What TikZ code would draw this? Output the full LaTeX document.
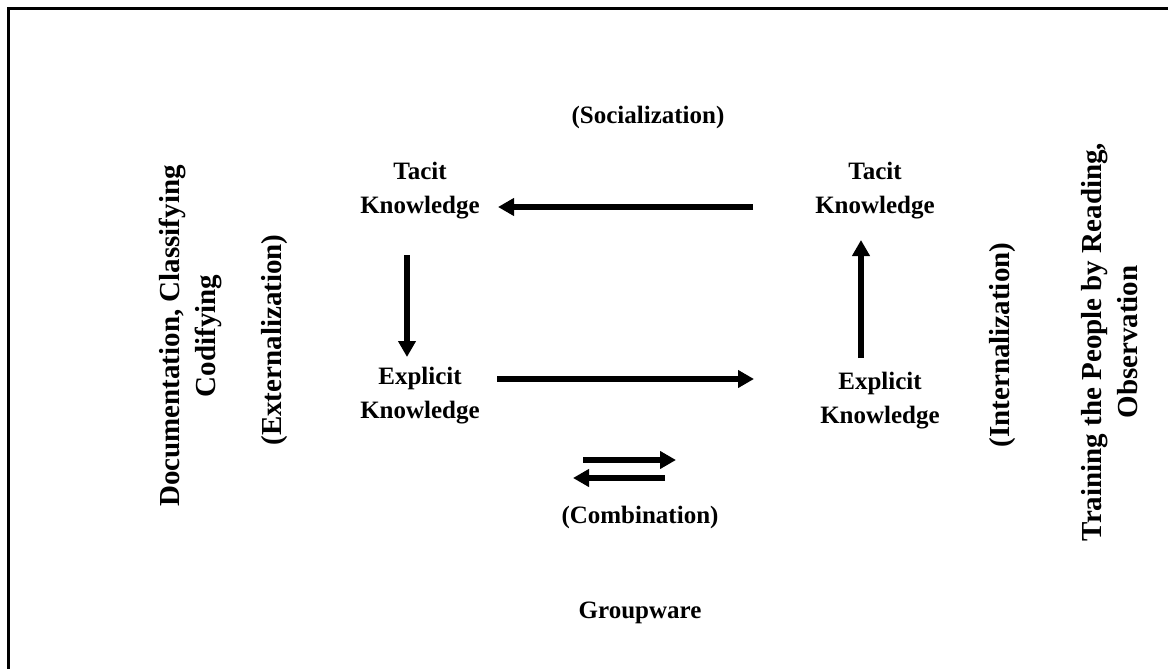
\documentclass[tikz,border=0pt]{standalone}
\usepackage{fontspec}
\setmainfont{Liberation Serif}
\usetikzlibrary{arrows.meta}
\begin{document}
\begin{tikzpicture}[x=1pt,y=-1pt,
  lbl/.style={font=\fontsize{25}{34}\selectfont\bfseries, align=center, inner sep=0pt},
  side/.style={font=\fontsize{29}{36}\selectfont\bfseries, align=center, inner sep=0pt, rotate=90},
  bigarrow/.style={line width=5.5pt, -{Triangle[length=16pt,width=17pt]}}]
\useasboundingbox (0,0) rectangle (1168,669);
\fill[white] (0,0) rectangle (1168,669);
\coordinate (fbl) at (8,669);
\coordinate (ftl) at (8,9);
\coordinate (ftr) at (1168,9);
\draw[line width=3pt] (fbl) -- (ftl) -- (ftr);

\node[lbl] (soc) at (648,117) {(Socialization)};
\node[lbl] (tl) at (420,191) {Tacit\\Knowledge};
\node[lbl] (tr) at (875,191) {Tacit\\Knowledge};
\node[lbl] (el) at (420,396) {Explicit\\Knowledge};
\node[lbl] (er) at (880,401) {Explicit\\Knowledge};
\node[lbl] (comb) at (640,517) {(Combination)};
\node[lbl] (grp) at (640,613) {Groupware};

\node[side] (doc) at (190,336) {Documentation, Classifying\\Codifying};
\node[side] (ext) at (275,340) {(Externalization)};
\node[side] (int) at (1003,345) {(Internalization)};
\node[side] (trn) at (1110,342) {Training the People by Reading,\\Observation};

\coordinate (a1s) at (753,207);
\coordinate (a1e) at (498,207);
\coordinate (a2s) at (407,255);
\coordinate (a2e) at (407,357);
\coordinate (a3s) at (497,379);
\coordinate (a3e) at (754,379);
\coordinate (a4s) at (861,358);
\coordinate (a4e) at (861,240);
\coordinate (a5s) at (583,460);
\coordinate (a5e) at (676,460);
\coordinate (a6s) at (665,478);
\coordinate (a6e) at (573,478);
\draw[bigarrow] (a1s) -- (a1e);
\draw[bigarrow] (a2s) -- (a2e);
\draw[bigarrow] (a3s) -- (a3e);
\draw[bigarrow] (a4s) -- (a4e);
\draw[bigarrow] (a5s) -- (a5e);
\draw[bigarrow] (a6s) -- (a6e);
\end{tikzpicture}
\end{document}
